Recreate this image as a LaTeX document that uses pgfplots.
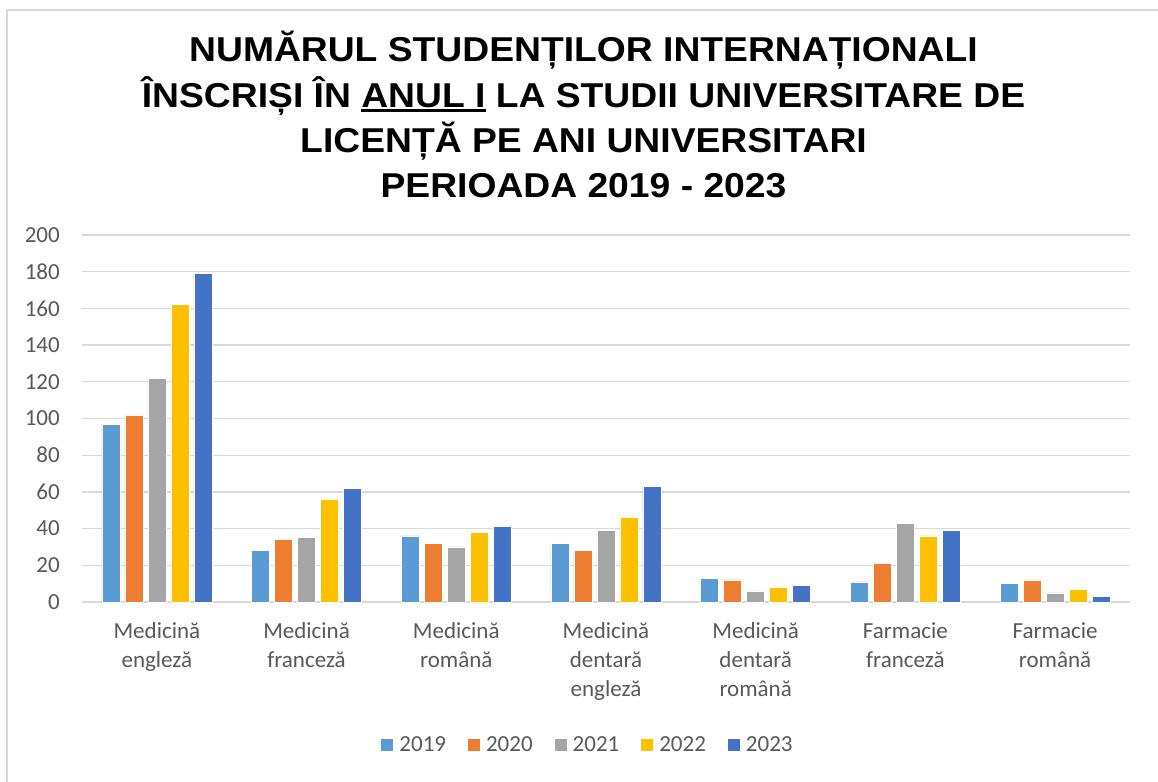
\documentclass[border=0pt]{standalone}
\usepackage{pgfplots}
\pgfplotsset{compat=1.18}
\usepackage{pgfplotstable}
\usepackage{fontspec}
\setmainfont{Carlito}
\newfontfamily\titlefont[FakeStretch=1.08]{Liberation Sans Bold}
\definecolor{cA}{HTML}{5B9BD5}
\definecolor{cB}{HTML}{ED7D31}
\definecolor{cC}{HTML}{A5A5A5}
\definecolor{cD}{HTML}{FFC000}
\definecolor{cE}{HTML}{4472C4}
\definecolor{gridc}{HTML}{D9D9D9}
\definecolor{txt}{HTML}{595959}
\newsavebox\ulbox
\newcommand\ulthick[1]{\sbox\ulbox{#1}\rlap{\rule[-5pt]{\wd\ulbox}{2.6pt}}\usebox{\ulbox}}
\pgfplotstableread{
x a b c d e
0 97 102 122 162 179
1 28 34 35 56 62
2 36 32 30 38 41
3 32 28 39 46 63
4 13 12 6 8 9
5 11 21 43 36 39
6 10 12 5 7 3
}\data
\begin{document}
\begin{tikzpicture}[x=1pt,y=1pt]
\useasboundingbox (0,0) rectangle (1158,-781);
\fill[white] (0,0) rectangle (1158,-781);
\draw[gridc, line width=1.5pt] (7,-790) -- (7,-10) -- (1170,-10);
\begin{scope}[font=\titlefont\fontsize{34.5}{45}\selectfont]
\node[anchor=base, inner sep=0pt] at (583.5,-62) {NUMĂRUL STUDENȚILOR INTERNAȚIONALI};
\node[anchor=base, inner sep=0pt] at (583.5,-107) {ÎNSCRIȘI ÎN \ulthick{ANUL I} LA STUDII UNIVERSITARE DE};
\node[anchor=base, inner sep=0pt] at (583.5,-152) {LICENȚĂ PE ANI UNIVERSITARI};
\node[anchor=base, inner sep=0pt] at (583.5,-197) {PERIOADA 2019 - 2023};
\end{scope}
\begin{axis}[
  at={(82pt,-602pt)}, anchor=south west,
  scale only axis, width=1048pt, height=367pt,
  ybar=5pt, bar width=18pt,
  xmin=-0.5, xmax=6.5, ymin=0, ymax=200,
  ytick distance=20,
  xtick=data,
  xticklabels={{Medicină\\engleză},{Medicină\\franceză},{Medicină\\română},{Medicină\\dentară\\engleză},{Medicină\\dentară\\română},{Farmacie\\franceză},{Farmacie\\română}},
  major tick length=0pt,
  axis line style={draw=none},
  ymajorgrids, major grid style={draw=gridc, line width=1.3pt},
  /pgf/number format/assume math mode=true,
  tick label style={font=\fontsize{23}{29}\selectfont, text=txt},
  yticklabel style={anchor=east, inner sep=0pt, xshift=-22pt},
  xticklabel style={anchor=north, inner sep=0pt, yshift=-20pt, align=center},
  legend columns=5,
  legend style={at={(0.4819,-0.3896)}, anchor=center, draw=none, fill=none,
    font=\fontsize{23}{28}\selectfont, text=txt,
    nodes={inner sep=0pt},
    /tikz/every odd column/.append style={column sep=6pt},
    /tikz/every even column/.append style={column sep=22pt}},
  legend image code/.code={\fill[#1,draw=none] (0pt,-6pt) rectangle (12pt,6pt);},
  every axis plot/.append style={draw=white, line width=0.6pt},
]
\addplot[fill=cA] table[x=x,y=a]{\data};
\addplot[fill=cB] table[x=x,y=b]{\data};
\addplot[fill=cC] table[x=x,y=c]{\data};
\addplot[fill=cD] table[x=x,y=d]{\data};
\addplot[fill=cE] table[x=x,y=e]{\data};
\legend{2019,2020,2021,2022,2023}
\end{axis}
\end{tikzpicture}
\end{document}
